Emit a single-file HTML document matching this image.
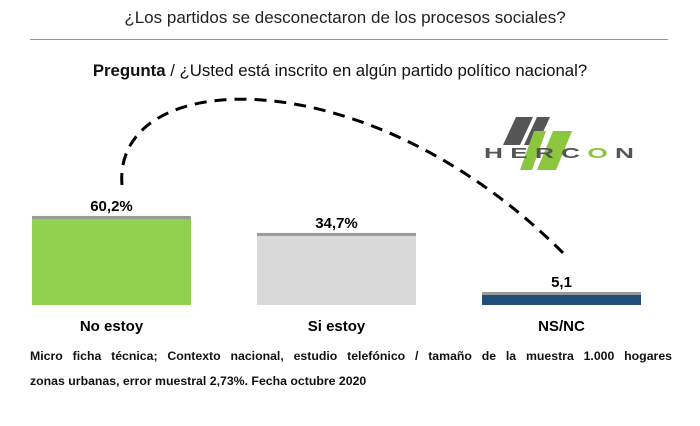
<!DOCTYPE html>
<html><head><meta charset="utf-8"><style>
body{margin:0;background:#fff;font-family:"Liberation Sans",sans-serif;}
#c{position:relative;width:700px;height:426px;overflow:hidden}
.t{position:absolute;white-space:nowrap}
.fn{position:absolute;left:30px;width:642px;font-size:12.3px;font-weight:bold;color:#111;white-space:normal}
</style></head><body>
<div id="c">
<div class="t" style="left:0;width:690px;text-align:center;top:8px;font-size:17px;color:#222">¿Los partidos se desconectaron de los procesos sociales?</div>
<div style="position:absolute;left:30px;top:39px;width:638px;height:1px;background:#8a9aa8"></div>
<div class="t" style="left:0;width:680px;text-align:center;top:61px;font-size:16.8px;color:#111"><b>Pregunta</b> / ¿Usted está inscrito en algún partido político nacional?</div>
<svg width="700" height="426" style="position:absolute;left:0;top:0">
<path d="M122,185 C112,65 370,55 568,258" fill="none" stroke="#000" stroke-width="3" stroke-dasharray="12,8"/>
<g>
<polygon points="516,117 533,117 520,145 503,145" fill="#555"/>
<polygon points="537,117 550,117 537,145 524,145" fill="#555"/>
<polygon points="534,131 546,131 532,170 520,170" fill="#8cc63f"/>
<polygon points="553,131 572,131 556,170 537,170" fill="#8cc63f"/>
<text x="484" y="158" font-family="Liberation Sans" font-size="15" font-weight="bold" fill="#555" textLength="150" lengthAdjust="spacingAndGlyphs">H E R C <tspan fill="#8cc63f">O</tspan> N</text>
</g>
<g id="bars"></g>
</svg>
<div class="fn" style="top:349px;text-align:justify;text-align-last:justify">Micro ficha técnica; Contexto nacional, estudio telefónico / tamaño de la muestra 1.000 hogares</div>
<div class="fn" style="top:374px">zonas urbanas, error muestral 2,73%. Fecha octubre 2020</div>
</div>
<script>
const categories=["No estoy","Si estoy","NS/NC"];
const values=[60.2,34.7,5.1];
const valueLabels=["60,2%","34,7%","5,1"];
const colors=["#92d050","#d9d9d9","#1f4e79"];
const base=305, barW=159, x0=32, step=225;
function h(v){return Math.max(4,13+30.8*Math.log(v/5.1));}
const g=document.getElementById('bars');
const ns="http://www.w3.org/2000/svg";
values.forEach((v,i)=>{
  const x=x0+i*step, y=base-h(v);
  const r=document.createElementNS(ns,'rect');
  
  
  r.setAttribute('x',x);r.setAttribute('y',y);r.setAttribute('width',barW);r.setAttribute('height',base-y);r.setAttribute('fill',colors[i]);
  g.appendChild(r);
  const cap=document.createElementNS(ns,'rect');
  
  
  cap.setAttribute('x',x);cap.setAttribute('y',y);cap.setAttribute('width',barW);cap.setAttribute('height',3);cap.setAttribute('fill','#9a9a9a');
  g.appendChild(cap);
  const t=document.createElementNS(ns,'text');
  
  
  t.setAttribute('x',x+barW/2);t.setAttribute('y',y-5);t.setAttribute('text-anchor','middle');
  t.setAttribute('font-size','15');t.setAttribute('font-weight','bold');t.setAttribute('font-family','Liberation Sans');
  t.textContent=valueLabels[i];g.appendChild(t);
  const c=document.createElementNS(ns,'text');
  
  
  c.setAttribute('x',x+barW/2);c.setAttribute('y',331);c.setAttribute('text-anchor','middle');
  c.setAttribute('font-size','15');c.setAttribute('font-weight','bold');c.setAttribute('font-family','Liberation Sans');
  c.textContent=categories[i];g.appendChild(c);
});
</script>
</body></html>
